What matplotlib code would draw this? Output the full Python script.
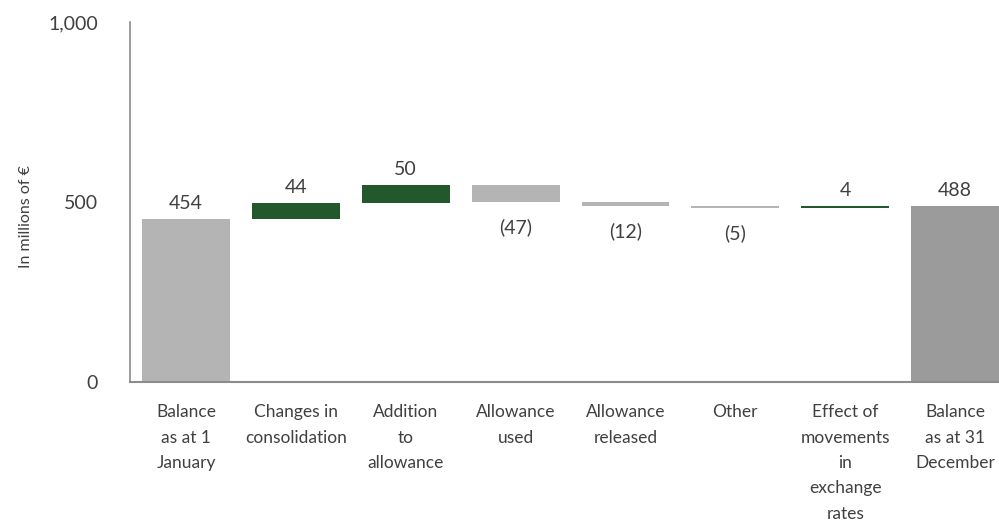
import matplotlib
matplotlib.use('Agg')
import matplotlib.pyplot as plt
import numpy as np

# ── Data ─────────────────────────────────────────────────────────────────────
categories = ['Balance\nas at 1\nJanuary', 'Changes in\nconsolidation', 'Addition\nto\nallowance',
              'Allowance\nused', 'Allowance\nreleased', 'Other',
              'Effect of\nmovements\nin\nexchange\nrates', 'Balance\nas at 31\nDecember']
opening = 454
changes = [44, 50, -47, -12, -5, 4]
closing = 488

grey = '#b4b4b4'
green = '#22582b'
dark_grey = '#9b9b9b'
text_col = '#404040'

plt.rcParams['font.family'] = ['Lato', 'DejaVu Sans']

fig = plt.figure(figsize=(9.99, 5.23), dpi=100)
ax = fig.add_axes([130 / 999, 1 - 382 / 523, 1 - 130 / 999, 360 / 523])

x = np.arange(len(categories))
w = 0.8
lbl_fs = 14

# opening balance
ax.bar(x[0], opening, width=w, color=grey)
ax.annotate(f'{opening}', (x[0], opening), xytext=(0, 5), textcoords='offset points',
            ha='center', va='bottom', fontsize=lbl_fs, color=text_col)

# movements
level = opening
for i, c in enumerate(changes, start=1):
    bottom = level if c > 0 else level + c
    ax.bar(x[i], abs(c), bottom=bottom, width=w, color=green if c > 0 else grey)
    if c > 0:
        ax.annotate(f'{c}', (x[i], level + c), xytext=(0, 5), textcoords='offset points',
                    ha='center', va='bottom', fontsize=lbl_fs, color=text_col)
    else:
        ax.annotate(f'({-c})', (x[i], level + c), xytext=(0, -12), textcoords='offset points',
                    ha='center', va='top', fontsize=lbl_fs, color=text_col)
    level += c

# closing balance
ax.bar(x[-1], closing, width=w, color=dark_grey)
ax.annotate(f'{closing}', (x[-1], closing), xytext=(0, 5), textcoords='offset points',
            ha='center', va='bottom', fontsize=lbl_fs, color=text_col)

ax.set_xlim(-0.51, 7.4)
ax.set_ylim(0, 1000)
ax.set_yticks([0, 500, 1000])
ax.set_yticklabels(['0', '500', '1,000'])
ax.set_xticks(x)
ax.set_xticklabels(categories, linespacing=1.72)
ax.tick_params(axis='y', length=0, pad=23, labelsize=14, labelcolor=text_col)
ax.tick_params(axis='x', length=0, pad=16, labelsize=12.5, labelcolor=text_col)
ax.set_ylabel('In millions of €', fontsize=11.5, color=text_col)
ax.yaxis.set_label_coords(-0.112, 0.46)

for s in ['top', 'right']:
    ax.spines[s].set_visible(False)
ax.spines['left'].set_color('#8c8c8c')
ax.spines['left'].set_linewidth(1.2)
ax.spines['bottom'].set_color('#8c8c8c')
ax.spines['bottom'].set_linewidth(1.5)

fig.savefig('out.png', dpi=100, facecolor='white')
